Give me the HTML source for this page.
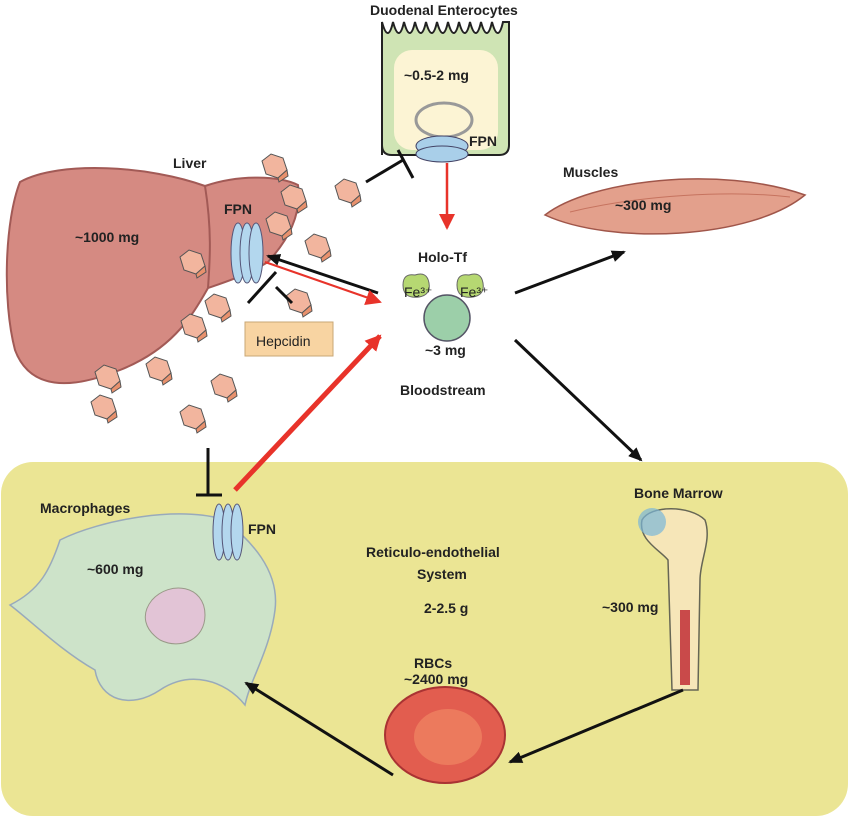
<!DOCTYPE html>
<html><head><meta charset="utf-8"><style>
html,body{margin:0;padding:0;background:#fff}
svg text{font-family:"Liberation Sans",sans-serif;font-weight:bold;font-size:14px;fill:#222}
</style></head><body>
<svg width="850" height="818" viewBox="0 0 850 818" xmlns="http://www.w3.org/2000/svg">
<defs>
<marker id="ab" markerWidth="14" markerHeight="12" refX="12" refY="6" orient="auto" markerUnits="userSpaceOnUse"><path d="M0,0 L14,6 L0,12 z" fill="#111"/></marker>
<marker id="ar" markerWidth="16" markerHeight="16" refX="14" refY="8" orient="auto" markerUnits="userSpaceOnUse"><path d="M0,0 L16,8 L0,16 z" fill="#e8332a"/></marker>
<g id="hx"><polygon points="-12,-6 -3,-13 9,-9 13,3 4,11 -8,7" fill="#f2b59e" stroke="#555" stroke-width="1"/><polygon points="4,11 13,3 14,9 5,15" fill="#e8916d" stroke="#555" stroke-width="1"/></g>
</defs>
<rect x="1" y="462" width="847" height="354" rx="32" fill="#ebe594"/>
<!-- enterocyte -->
<path d="M382,155 L382,22 q6,22 11,0 q6,22 11,0 q6,22 11,0 q6,22 11,0 q6,22 11,0 q6,22 11,0 q6,22 11,0 q6,22 11,0 q6,22 11,0 q6,22 11,0 q6,22 11,0 L509,22 L509,145 q0,10 -10,10 L392,155 q-10,0 -10,-10z" fill="#cfe4b4" stroke="#222" stroke-width="2"/>
<rect x="394" y="50" width="104" height="100" rx="18" fill="#fcf4d4"/>
<text x="404" y="80">~0.5-2 mg</text>
<ellipse cx="444" cy="120" rx="28" ry="17" fill="none" stroke="#999" stroke-width="3"/>
<ellipse cx="442" cy="146" rx="26" ry="10" fill="#a9cfe9" stroke="#446" stroke-width="1"/>
<ellipse cx="442" cy="154" rx="26" ry="8" fill="#a9cfe9" stroke="#446" stroke-width="1"/>
<text x="469" y="146" font-size="13">FPN</text>
<text x="370" y="15">Duodenal Enterocytes</text>
<line x1="366" y1="182" x2="403" y2="160" stroke="#111" stroke-width="3"/>
<line x1="398" y1="150" x2="413" y2="178" stroke="#111" stroke-width="3"/>
<line x1="447" y1="163" x2="447" y2="228" stroke="#e8332a" stroke-width="2.5" marker-end="url(#ar)"/>
<!-- liver -->
<path d="M20,182 C60,160 150,166 205,186 C240,174 280,176 298,185 C302,215 288,240 268,262 C245,276 225,282 208,288 C190,320 170,350 120,370 C70,390 30,390 15,350 C2,300 5,220 20,182z" fill="#d58a82" stroke="#a25a56" stroke-width="2"/>
<path d="M205,186 C212,230 210,260 208,288" fill="none" stroke="#a25a56" stroke-width="2"/>
<text x="173" y="168">Liver</text>
<text x="75" y="242" font-size="15">~1000 mg</text>
<text x="224" y="214" font-size="13">FPN</text>
<g fill="#b3d7ee" stroke="#557" stroke-width="1"><ellipse cx="238" cy="253" rx="7" ry="30"/><ellipse cx="247" cy="253" rx="7" ry="30"/><ellipse cx="256" cy="253" rx="7" ry="30"/></g>
<use href="#hx" x="274" y="167"/><use href="#hx" x="293" y="198"/><use href="#hx" x="278" y="225"/><use href="#hx" x="317" y="247"/><use href="#hx" x="347" y="192"/><use href="#hx" x="192" y="263"/><use href="#hx" x="217" y="307"/><use href="#hx" x="193" y="327"/><use href="#hx" x="107" y="378"/><use href="#hx" x="158" y="370"/><use href="#hx" x="223" y="387"/><use href="#hx" x="103" y="408"/><use href="#hx" x="192" y="418"/><use href="#hx" x="298" y="302"/>
<rect x="245" y="322" width="88" height="34" fill="#f8d4a2" stroke="#c9a775" stroke-width="1"/>
<text x="256" y="346" font-size="16" style="font-weight:normal">Hepcidin</text>
<line x1="248" y1="303" x2="276" y2="272" stroke="#111" stroke-width="3"/>
<line x1="276" y1="287" x2="292" y2="303" stroke="#111" stroke-width="3"/>
<line x1="378" y1="293" x2="268" y2="256" stroke="#111" stroke-width="3" marker-end="url(#ab)"/>
<line x1="265" y1="262" x2="380" y2="302" stroke="#e8332a" stroke-width="2" marker-end="url(#ar)"/>
<!-- holo-tf -->
<text x="418" y="262">Holo-Tf</text>
<path d="M403,285 q0,-12 12,-10 q12,-4 14,8 q2,12 -10,14 q-16,2 -16,-12z" fill="#b6d872" stroke="#666"/>
<path d="M457,285 q0,-12 12,-10 q12,-4 14,8 q2,12 -10,14 q-16,2 -16,-12z" fill="#b6d872" stroke="#666"/>
<text x="404" y="297" font-size="10" style="font-weight:normal">Fe³⁺</text>
<text x="460" y="297" font-size="10" style="font-weight:normal">Fe³⁺</text>
<circle cx="447" cy="318" r="23" fill="#9ccfa9" stroke="#556" stroke-width="1.5"/>
<text x="425" y="355" font-size="15">~3 mg</text>
<text x="400" y="395">Bloodstream</text>
<!-- muscles -->
<path d="M545,215 C590,180 720,165 805,195 C750,240 610,245 545,215z" fill="#e3a08c" stroke="#a0564a" stroke-width="1.5"/>
<path d="M570,212 C640,195 730,190 790,197" fill="none" stroke="#c6735f" stroke-width="1"/>
<text x="563" y="177">Muscles</text>
<text x="615" y="210">~300 mg</text>
<line x1="515" y1="293" x2="624" y2="252" stroke="#111" stroke-width="3" marker-end="url(#ab)"/>
<line x1="515" y1="340" x2="641" y2="460" stroke="#111" stroke-width="3" marker-end="url(#ab)"/>
<line x1="235" y1="490" x2="380" y2="336" stroke="#e8332a" stroke-width="5" marker-end="url(#ar)"/>
<line x1="208" y1="448" x2="208" y2="495" stroke="#111" stroke-width="3"/>
<line x1="196" y1="495" x2="222" y2="495" stroke="#111" stroke-width="3"/>
<!-- macrophage -->
<path d="M60,540 C100,520 180,505 225,520 C250,540 280,570 275,610 C270,650 250,680 245,705 C225,680 190,670 160,690 C130,710 100,700 95,670 C60,650 30,620 10,605 C40,590 50,570 60,540z" fill="#cde3c9" stroke="#9ab" stroke-width="1.5"/>
<path d="M152,600 C170,580 205,585 205,615 C205,640 180,650 160,640 C145,630 140,615 152,600z" fill="#e2c4d6" stroke="#998"/>
<text x="40" y="513">Macrophages</text>
<text x="87" y="574">~600 mg</text>
<g fill="#b3d7ee" stroke="#557" stroke-width="1"><ellipse cx="219" cy="532" rx="6" ry="28"/><ellipse cx="228" cy="532" rx="6" ry="28"/><ellipse cx="237" cy="532" rx="6" ry="28"/></g>
<text x="248" y="534" font-size="13">FPN</text>
<text x="366" y="557">Reticulo-endothelial</text>
<text x="417" y="579">System</text>
<text x="424" y="613">2-2.5 g</text>
<!-- bone marrow -->
<text x="634" y="498">Bone Marrow</text>
<path d="M642,520 C650,505 690,505 705,520 C712,540 700,560 700,580 L698,690 L672,690 L668,560 C660,550 638,540 642,520z" fill="#f6e6b8" stroke="#665" stroke-width="1.5"/>
<circle cx="652" cy="522" r="14" fill="#7ab6d9" opacity="0.7"/>
<rect x="680" y="610" width="10" height="75" fill="#c94a4a"/>
<text x="602" y="612">~300 mg</text>
<text x="414" y="668">RBCs</text>
<text x="404" y="684">~2400 mg</text>
<ellipse cx="445" cy="735" rx="60" ry="48" fill="#e25d4f" stroke="#a33" stroke-width="2"/>
<ellipse cx="448" cy="737" rx="34" ry="28" fill="#ec7a5d"/>
<line x1="683" y1="690" x2="510" y2="762" stroke="#111" stroke-width="3" marker-end="url(#ab)"/>
<line x1="393" y1="775" x2="246" y2="683" stroke="#111" stroke-width="3" marker-end="url(#ab)"/>
</svg>
</body></html>
